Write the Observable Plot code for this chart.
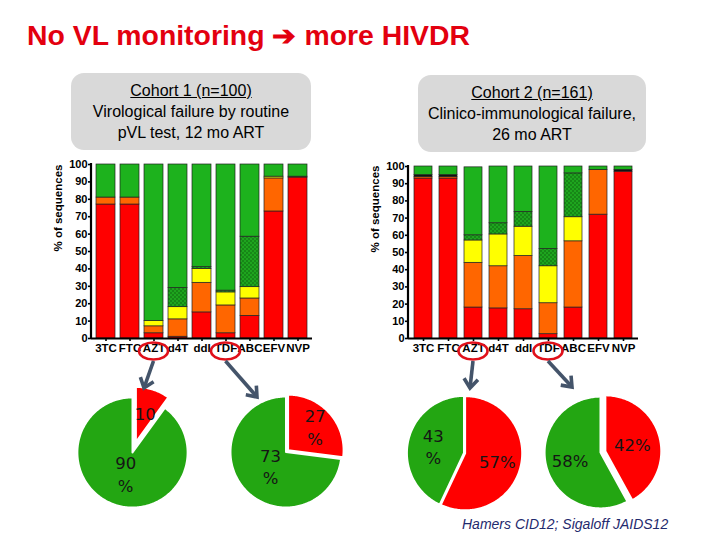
<!DOCTYPE html>
<html><head><meta charset="utf-8">
<script src="https://cdn.jsdelivr.net/npm/d3@7"></script>
<script src="https://cdn.jsdelivr.net/npm/@observablehq/plot@0.6"></script>
<style>
body{margin:0;background:#fff;}
#slide{position:relative;width:720px;height:540px;overflow:hidden;background:#fff;font-family:"Liberation Sans",Arial,sans-serif;}
.abs{position:absolute;}
.box{position:absolute;background:#d9d9d9;border-radius:13px;text-align:center;font-family:"Liberation Sans",Arial,sans-serif;font-size:16px;line-height:21px;color:#000;box-sizing:border-box;padding-top:7px;}
.cite{position:absolute;left:462px;top:516px;font-family:"Liberation Sans",sans-serif;font-style:italic;font-size:14px;color:#1f2a6e;white-space:nowrap;}
</style></head><body>
<svg width="0" height="0" style="position:absolute"><defs>
<pattern id="dots" width="4" height="4" patternUnits="userSpaceOnUse"><rect width="4" height="4" fill="#1ea51e"/><circle cx="1" cy="1" r="0.75" fill="#0b5a0b"/><circle cx="3" cy="3" r="0.75" fill="#0b5a0b"/></pattern>
</defs></svg>
<div id="slide">
  <svg class="abs" style="left:0;top:0" width="720" height="60"><text x="27" y="45" textLength="443" lengthAdjust="spacingAndGlyphs" font-family="Liberation Sans, Arial, sans-serif" font-weight="bold" font-size="27" fill="#e3000f">No VL monitoring ➔ more HIVDR</text></svg>
  <div class="box" style="left:71px;top:73px;width:240px;height:77px;"><u>Cohort 1 (n=100)</u><br>Virological failure by routine<br>pVL test, 12 mo ART</div>
  <div class="box" style="left:418px;top:75px;width:228px;height:77px;"><u>Cohort 2 (n=161)</u><br>Clinico-immunological failure,<br>26 mo ART</div>
  <div class="cite">Hamers CID12; Sigaloff JAIDS12</div>
</div>
<script>
// ---- data ----
const drugs = ["3TC","FTC","AZT","d4T","ddI","TDF","ABC","EFV","NVP"];
const segNames = ["red","orange","yellow","dotted","black","green"];
// Cohort 1 (% of sequences), bottom to top
const c1Red    = [77, 77, 3, 1, 15, 3, 13, 73, 92.5];
const c1Orange = [4, 4, 4, 10, 17, 16, 10, 19, 0.5];
const c1Yellow = [0, 0, 3, 7, 8, 7.5, 6.5, 1, 0];
const c1Dotted = [0, 0, 0, 11, 1, 1, 29, 0, 0];
const c1Black  = [0, 0, 0, 0, 0, 0, 0, 0, 0];
const c1Green  = [19, 19, 90, 71, 59, 72.5, 41.5, 7, 7];
// Cohort 2
const c2Red    = [93, 93, 18, 17.5, 17, 2.5, 18, 72, 97];
const c2Orange = [1, 1, 26, 24.5, 31, 18, 38.5, 26, 0];
const c2Yellow = [0, 0, 13, 18.5, 17, 21.5, 14, 0, 0];
const c2Dotted = [0, 0, 3, 6.5, 8.5, 10, 25.5, 0, 0];
const c2Black  = [1, 1, 0, 0, 0, 0, 0, 0, 1];
const c2Green  = [5, 5, 39.5, 33, 26.5, 48, 4, 2, 2];
const yTicks = [0,10,20,30,40,50,60,70,80,90,100];
// Pies: [resistant (red), susceptible (green)]
const pieC1AZT = [10, 90];
const pieC1TDF = [27, 73];
const pieC2AZT = [57, 43];
const pieC2TDF = [42, 58];
const labC1AZT = ["10", "90\n%"];
const labC1TDF = ["27\n%", "73\n%"];
const labC2AZT = ["57%", "43\n%"];
const labC2TDF = ["42%", "58%"];

const segColors = ["#ff0000","#ff6600","#ffff00","url(#dots)","#111111","#1db21d"];
const slide = document.getElementById("slide");

function barChart(series, o) {
  const rows = [];
  drugs.forEach((d, i) => {
    segNames.forEach((s, k) => { const v = series[k][i]; if (v > 0) rows.push({drug: d, seg: s, value: v}); });
  });
  const chart = Plot.plot({
    width: o.width, height: o.height,
    marginLeft: o.ml, marginRight: o.mr, marginTop: o.mt, marginBottom: o.mb,
    style: {fontFamily: "Liberation Sans, Arial, sans-serif", fontSize: "11px", fontWeight: "bold", color: "#000", background: "transparent", overflow: "visible"},
    x: {domain: drugs, paddingInner: o.pi, paddingOuter: o.po, label: null},
    y: {domain: [0, 100], label: null},
    color: {domain: segNames, range: segColors},
    marks: [
      Plot.barY(rows, {x: "drug", y: "value", fill: "seg", stroke: "#222", strokeWidth: 0.7}),
      Plot.ruleY([0], {stroke: "#000", strokeWidth: 2}),
      Plot.axisX({tickSize: 3, tickPadding: 2, fontSize: 11.5, fontWeight: "bold", label: null}),
      Plot.axisY({ticks: yTicks, tickSize: 3, tickPadding: 1, fontSize: 11, fontWeight: "bold", label: null}),
      Plot.text(["% of sequences"], {frameAnchor: "left", rotate: -90, dx: -33, text: d => d, fontWeight: "bold", fontSize: 11.5})
    ]
  });
  chart.style.position = "absolute";
  chart.style.left = o.left + "px";
  chart.style.top = o.top + "px";
  const s = d3.select(chart);
  s.selectAll('[aria-label="y-axis tick"], [aria-label="x-axis tick"]').attr("stroke-width", 1.6);
  s.append("line").attr("x1", o.ml).attr("x2", o.ml).attr("y1", o.mt - 1).attr("y2", o.height - o.mb + 1)
    .attr("stroke", "#000").attr("stroke-width", 2.2);
  slide.appendChild(chart);
  return chart;
}

const left = barChart([c1Red, c1Orange, c1Yellow, c1Dotted, c1Black, c1Green],
  {left: 0, top: 150, width: 320, height: 215, ml: 91, mr: 8, mt: 14, mb: 27, pi: 0.22, po: 0.2});
const right = barChart([c2Red, c2Orange, c2Yellow, c2Dotted, c2Black, c2Green],
  {left: 320, top: 150, width: 330, height: 215, ml: 88, mr: 12, mt: 16, mb: 27, pi: 0.3, po: 0.2});

function pieChart(vals, labels, o) {
  const L = 1.27, size = Math.round(2 * L * o.r);
  const total = d3.sum(vals);
  const colors = ["#ff0000", "#23a612"];
  let a0 = 0;
  const marks = [], texts = [];
  vals.forEach((v, i) => {
    const a1 = a0 + v / total * 2 * Math.PI, mid = (a0 + a1) / 2;
    const ox = Math.sin(mid) * o.explode[i], oy = Math.cos(mid) * o.explode[i];
    const pts = [[ox, oy]];
    const n = Math.max(4, Math.ceil((a1 - a0) / 0.02));
    for (let k = 0; k <= n; k++) { const a = a0 + (a1 - a0) * k / n; pts.push([ox + Math.sin(a), oy + Math.cos(a)]); }
    pts.push([ox, oy]);
    marks.push(Plot.line(pts, {x: d => d[0], y: d => d[1], fill: colors[i], stroke: "#fff", strokeWidth: 2, curve: "linear"}));
    texts.push({x: ox + Math.sin(mid) * o.labelR[i], y: oy + Math.cos(mid) * o.labelR[i], text: labels[i]});
    a0 = a1;
  });
  marks.push(Plot.text(texts, {x: "x", y: "y", text: "text", fontSize: 16.5, lineHeight: 1.35, fill: "#151515", fontFamily: "DejaVu Sans, Verdana, sans-serif"}));
  const chart = Plot.plot({
    width: size, height: size, margin: 0,
    x: {domain: [-L, L], axis: null}, y: {domain: [-L, L], axis: null},
    style: {background: "transparent", overflow: "visible"},
    marks
  });
  chart.style.position = "absolute";
  chart.style.left = (o.cx - size / 2) + "px";
  chart.style.top = (o.cy - size / 2) + "px";
  slide.appendChild(chart);
}

pieChart(pieC1AZT, labC1AZT, {cx: 131.5, cy: 452, r: 55, explode: [0.2, 0.0], labelR: [0.55, 0.4]});
pieChart(pieC1TDF, labC1TDF, {cx: 285, cy: 451, r: 55.5, explode: [0.05, 0.0], labelR: [0.65, 0.37]});
pieChart(pieC2AZT, labC2AZT, {cx: 463, cy: 452, r: 57, explode: [0.02, 0.0], labelR: [0.58, 0.55]});
pieChart(pieC2TDF, labC2TDF, {cx: 600, cy: 452, r: 56, explode: [0.09, 0.0], labelR: [0.5, 0.56]});

// ---- annotations: red ellipses around AZT / TDF labels and arrows to pies ----
const ov = d3.select(slide).append("svg").attr("class", "abs").style("left", "0px").style("top", "0px")
  .attr("width", 720).attr("height", 540).style("pointer-events", "none");
function ellipseFor(chart, offLeft, offTop, drug) {
  const xs = chart.scale("x"), ys = chart.scale("y");
  const cx = offLeft + xs.apply(drug) + xs.bandwidth / 2;
  const cy = offTop + ys.apply(0) + 13;
  ov.append("ellipse").attr("cx", cx).attr("cy", cy).attr("rx", 14.5).attr("ry", 8.5)
    .attr("fill", "none").attr("stroke", "#e0101a").attr("stroke-width", 2.6);
  return [cx, cy + 10];
}
function arrow(from, to) {
  const dx = to[0] - from[0], dy = to[1] - from[1], len = Math.hypot(dx, dy);
  const ux = dx / len, uy = dy / len, px = -uy, py = ux, h = 9, w = 7;
  ov.append("line").attr("x1", from[0]).attr("y1", from[1]).attr("x2", to[0] - ux * 2).attr("y2", to[1] - uy * 2)
    .attr("stroke", "#44546a").attr("stroke-width", 3.6);
  ov.append("polyline").attr("points", [
      [to[0] - ux * h + px * w, to[1] - uy * h + py * w], [to[0], to[1]], [to[0] - ux * h - px * w, to[1] - uy * h - py * w]
    ].map(p => p.join(",")).join(" "))
    .attr("fill", "none").attr("stroke", "#44546a").attr("stroke-width", 3.6).attr("stroke-linejoin", "miter");
}
const e1 = ellipseFor(left, 0, 150, "AZT");
const e2 = ellipseFor(left, 0, 150, "TDF");
const e3 = ellipseFor(right, 320, 150, "AZT");
const e4 = ellipseFor(right, 320, 150, "TDF");
arrow(e1, [144, 388]);
arrow(e2, [257, 397]);
arrow(e3, [470, 388]);
arrow(e4, [572, 387]);
</script>
</body></html>
